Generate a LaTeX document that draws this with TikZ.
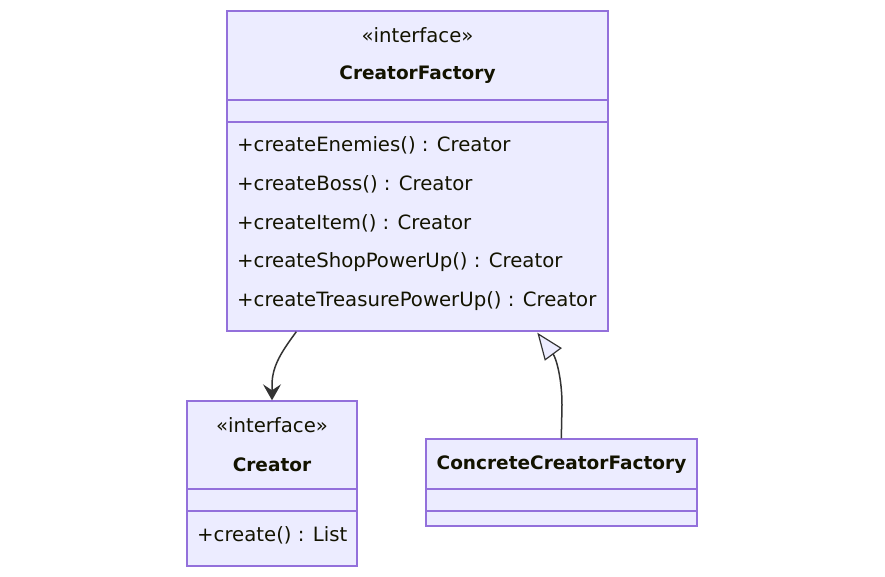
\documentclass[tikz,border=0pt]{standalone}
\usepackage{fontspec}
\setmainfont{DejaVu Sans}
\usetikzlibrary{arrows.meta,calc}
\definecolor{boxfill}{HTML}{ECECFF}
\definecolor{boxline}{HTML}{9370DB}
\definecolor{txt}{HTML}{131300}
\definecolor{edge}{HTML}{333333}
\tikzset{
  classbox/.style={draw=boxline, fill=boxfill, line width=1.4pt, inner sep=0pt},
  divider/.style={draw=boxline, line width=1.4pt},
  ctext/.style={text=txt, inner sep=0pt, font=\fontsize{19.7}{23}\selectfont},
  ttext/.style={ctext, font=\fontsize{18.5}{22}\selectfont\bfseries},
  mtext/.style={ctext, anchor=west},
  rel/.style={draw=edge, line width=1.5pt}
}
\begin{document}
\begin{tikzpicture}[x=1pt,y=-1pt]
\useasboundingbox (0,0) rectangle (885,577);
% CreatorFactory
\node[classbox, minimum width=381pt, minimum height=320pt] (cf) at (417.5,171) {};
\draw[divider] (227,100) -- (608,100);
\draw[divider] (227,122) -- (608,122);
\node[ctext] (cfst) at (417.5,35) {«interface»};
\node[ttext] (cft) at (417.5,74.5) {CreatorFactory};
\node[mtext] (m1) at (237,145) {+createEnemies() : Creator};
\node[mtext] (m2) at (237,184) {+createBoss() : Creator};
\node[mtext] (m3) at (237,223) {+createItem() : Creator};
\node[mtext] (m4) at (237,262) {+createShopPowerUp() : Creator};
\node[mtext] (m5) at (237,301) {+createTreasurePowerUp() : Creator};
% Creator
\node[classbox, minimum width=170pt, minimum height=165pt] (cr) at (272,483.5) {};
\draw[divider] (187,489) -- (357,489);
\draw[divider] (187,511) -- (357,511);
\node[ctext] (crst) at (272,425) {«interface»};
\node[ttext] (crt) at (272,464.5) {Creator};
\node[mtext] (cm1) at (197,535) {+create() : List};
% ConcreteCreatorFactory
\node[classbox, minimum width=271pt, minimum height=87pt] (cc) at (561.5,482.5) {};
\draw[divider] (426,489) -- (697,489);
\draw[divider] (426,511) -- (697,511);
\node[ttext] (cct) at (561.5,464.5) {ConcreteCreatorFactory};
% relations
\coordinate (a1) at ($(cf.south west)+(70,0)$);
\draw[rel, -{Stealth[length=16pt,width=18pt,inset=6pt]}]
  (a1) .. controls (283,350) and (272,365) .. (272,385) -- (cr.north);
\coordinate (a2) at ($(cc.north west)+(136,0)$);
\coordinate (a3) at ($(cf.south west)+(311,1)$);
\draw[rel, -{Triangle[open,fill=boxfill,length=27pt,width=21pt,line width=1.2pt]}]
  (a2) -- (562,405) .. controls (562,378) and (556,358) .. (a3);
\end{tikzpicture}
\end{document}
